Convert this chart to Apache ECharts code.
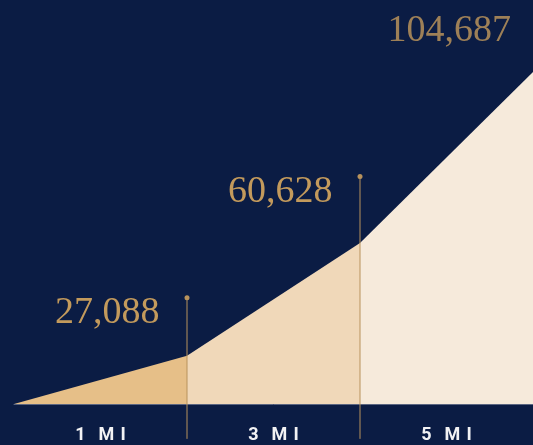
<!DOCTYPE html>
<html>
<head>
<meta charset="utf-8">
<script src="https://cdn.jsdelivr.net/npm/echarts@6/dist/echarts.min.js"></script>
<style>
  html, body { margin: 0; padding: 0; background: #0b1c44; }
  #chart { width: 533px; height: 445px; }
</style>
</head>
<body>
<div id="chart"></div>
<script>
// radius rings and their population
const rings = ['1 MI', '3 MI', '5 MI'];
const population = [27088, 60628, 104687];
// drawn height of the curve at each ring edge (index, 5 mi = 100)
const curveHeight = [0, 14.5, 48.5, 100];

const colorArr = ['#e6bf88', '#f0d8b9', '#f6eadb'];
const gold = '#c39a5c';

const fmt = n => n.toLocaleString('en-US');

const areaSeries = rings.map((r, i) => ({
  name: r,
  type: 'line',
  symbol: 'none',
  lineStyle: { width: 0 },
  areaStyle: { color: colorArr[i], opacity: 1 },
  data: [[i, curveHeight[i]], [i + 1, curveHeight[i + 1]]],
  z: 2
}));

// thin gold marker lines at the 1 mi and 3 mi edges, carrying the figure labels
const markerSeries = [0, 1].map(i => ({
  type: 'line',
  clip: false,
  symbol: 'none',
  lineStyle: { color: '#b8925c', width: 1 },
  data: [
    [i + 1, -10.5],
    {
      value: [i + 1, curveHeight[i + 1] + 17.5 + i * 2.5],
      symbol: 'circle',
      symbolSize: 5,
      itemStyle: { color: '#b8925c' },
      label: {
        show: true,
        position: 'left',
        distance: 25,
        offset: [0, 15],
        formatter: fmt(population[i]),
        color: gold,
        fontFamily: 'Liberation Serif',
        fontSize: 38
      }
    }
  ],
  z: 5
}));

const topLabel = {
  type: 'scatter',
  clip: false,
  symbolSize: 0,
  data: [{
    value: [3, curveHeight[3]],
    label: {
      show: true,
      position: 'left',
      distance: 22,
      offset: [0, -41],
      formatter: fmt(population[2]),
      color: gold,
      fontFamily: 'Liberation Serif',
      fontSize: 38
    }
  }],
  z: 5
};

const chart = echarts.init(document.getElementById('chart'));
chart.setOption({
  backgroundColor: '#0b1c44',
  animation: false,
  grid: { left: 14, right: -2, top: 72, bottom: 41 },
  xAxis: {
    type: 'value',
    min: 0,
    max: 3,
    interval: 0.5,
    splitLine: { show: false },
    axisTick: { show: false },
    axisLine: { show: true, lineStyle: { color: '#5b6682', width: 1 } },
    axisLabel: {
      margin: 22,
      showMinLabel: false,
      showMaxLabel: false,
      color: '#f2f2f4',
      fontFamily: 'Roboto',
      fontWeight: 'bold',
      fontSize: 18,
      formatter: v => {
        const k = v - 0.5;
        return Number.isInteger(k) && rings[k] ? rings[k].replace(' ', '\u2002\u2009').replace('MI', 'M\u2004I') : '';
      }
    }
  },
  yAxis: {
    type: 'value',
    min: 0,
    max: 100,
    show: false
  },
  series: [...areaSeries, ...markerSeries, topLabel]
});
</script>
</body>
</html>
